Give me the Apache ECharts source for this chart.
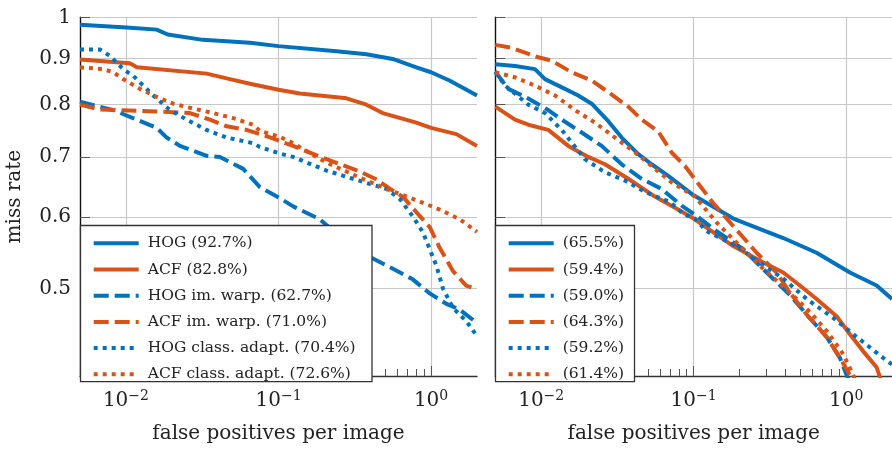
<!DOCTYPE html>
<html><head><meta charset="utf-8">
<script src="https://cdn.jsdelivr.net/npm/echarts@6/dist/echarts.min.js"></script>
<style>html,body{margin:0;padding:0;background:#fff}#c{width:892px;height:449px}</style>
</head><body><div id="c"></div>
<script>
// ---- tick values ----
const xTicks = [0.01, 0.1, 1];
const xMinorTicks = [0.006,0.007,0.008,0.009,0.02,0.03,0.04,0.05,0.06,0.07,0.08,0.09,0.2,0.3,0.4,0.5,0.6,0.7,0.8,0.9];
const yTicks = [0.5, 0.6, 0.7, 0.8, 0.9, 1];

// ---- left panel series: [false positives per image, miss rate] ----
const hogL = [[0.005,0.981],[0.0101,0.974],[0.0159,0.969],[0.0188,0.957],[0.0319,0.944],[0.065,0.937],[0.1,0.929],[0.24,0.917],[0.377,0.91],[0.561,0.899],[0.8,0.88],[1.0,0.869],[1.32,0.851],[2.0,0.819]];
const acfL = [[0.005,0.898],[0.0106,0.889],[0.0118,0.88],[0.0338,0.866],[0.048,0.854],[0.065,0.844],[0.1,0.831],[0.138,0.823],[0.279,0.813],[0.377,0.8],[0.482,0.783],[0.8,0.764],[1.0,0.754],[1.466,0.742],[2.0,0.72]];
const hogWarpL = [[0.005,0.806],[0.00826,0.789],[0.0159,0.754],[0.0185,0.7355],[0.0226,0.72],[0.0338,0.702],[0.0413,0.70],[0.0587,0.679],[0.0755,0.648],[0.102,0.63],[0.1247,0.617],[0.1866,0.597],[0.2638,0.567],[0.4067,0.541],[0.563,0.526],[0.758,0.512],[0.98,0.494],[1.26,0.481],[1.54,0.474],[2.0,0.458]];
const acfWarpL = [[0.005,0.8],[0.00676,0.79],[0.0159,0.786],[0.02626,0.783],[0.0355,0.77],[0.0457,0.757],[0.0617,0.75],[0.0835,0.738],[0.102,0.729],[0.1247,0.72],[0.2064,0.696],[0.33,0.676],[0.43,0.662],[0.54,0.645],[0.655,0.632],[0.8,0.608],[0.98,0.585],[1.139,0.555],[1.392,0.523],[1.7,0.504],[2.0,0.499]];
const hogAdaptL = [[0.005,0.921],[0.00676,0.921],[0.00786,0.906],[0.0096,0.876],[0.01117,0.861],[0.0151,0.819],[0.01943,0.789],[0.025,0.77],[0.0338,0.75],[0.0457,0.7355],[0.0682,0.725],[0.0755,0.718],[0.102,0.706],[0.1247,0.70],[0.2064,0.676],[0.308,0.662],[0.51,0.645],[0.623,0.629],[0.761,0.601],[0.886,0.577],[0.98,0.553],[1.084,0.53],[1.197,0.50],[1.392,0.476],[1.703,0.46],[2.0,0.443]];
const acfAdaptL = [[0.005,0.88],[0.00707,0.876],[0.00826,0.869],[0.0096,0.854],[0.01235,0.833],[0.0159,0.816],[0.0204,0.802],[0.0276,0.792],[0.0373,0.783],[0.0504,0.773],[0.0682,0.76],[0.0755,0.748],[0.102,0.737],[0.1247,0.725],[0.2064,0.69],[0.341,0.664],[0.51,0.645],[0.689,0.633],[1.139,0.612],[1.54,0.597],[2.0,0.578]];

// ---- right panel series ----
const hogR = [[0.005,0.887],[0.00673,0.883],[0.0091,0.876],[0.01059,0.854],[0.01432,0.833],[0.0175,0.819],[0.02144,0.802],[0.02754,0.767],[0.03372,0.7355],[0.04333,0.705],[0.053,0.687],[0.0681,0.667],[0.0994,0.635],[0.1819,0.598],[0.3869,0.569],[0.6405,0.548],[1.059,0.521],[1.585,0.504],[2.0,0.487]];
const acfR = [[0.005,0.796],[0.00673,0.77],[0.00823,0.76],[0.01113,0.75],[0.01505,0.72],[0.02036,0.70],[0.0262,0.687],[0.03725,0.662],[0.0557,0.6325],[0.0834,0.609],[0.1,0.598],[0.1819,0.5575],[0.2721,0.537],[0.3869,0.521],[0.4977,0.504],[0.6405,0.487],[0.866,0.466],[1.059,0.445],[1.295,0.426],[1.585,0.409],[1.7,0.395]];
const hogWarpR = [[0.005,0.87],[0.00608,0.833],[0.00823,0.8128],[0.01113,0.789],[0.01363,0.77],[0.01843,0.745],[0.02493,0.72],[0.03372,0.687],[0.0456,0.662],[0.0617,0.645],[0.0834,0.618],[0.102,0.604],[0.1415,0.579],[0.2114,0.553],[0.3012,0.521],[0.428,0.492],[0.5508,0.468],[0.745,0.442],[0.911,0.419],[1.008,0.401],[1.05,0.395]];
const acfWarpR = [[0.005,0.932],[0.0064,0.925],[0.00957,0.903],[0.01172,0.895],[0.01585,0.869],[0.02144,0.851],[0.02754,0.826],[0.03725,0.796],[0.0456,0.77],[0.0586,0.747],[0.0717,0.708],[0.0877,0.684],[0.0994,0.665],[0.1344,0.622],[0.1914,0.581],[0.2588,0.548],[0.35,0.521],[0.428,0.495],[0.5508,0.468],[0.745,0.442],[0.911,0.419],[1.059,0.401],[1.1,0.395]];
const hogAdaptR = [[0.005,0.87],[0.00579,0.84],[0.00823,0.80],[0.01059,0.783],[0.01363,0.75],[0.01937,0.696],[0.0262,0.673],[0.03544,0.659],[0.0479,0.64],[0.0699,0.624],[0.0855,0.605],[0.102,0.598],[0.1217,0.579],[0.1914,0.5575],[0.2721,0.534],[0.3869,0.513],[0.5508,0.487],[0.823,0.464],[1.172,0.442],[1.75,0.419],[2.0,0.412]];
const acfAdaptR = [[0.005,0.869],[0.00673,0.858],[0.0091,0.84],[0.01232,0.819],[0.01666,0.789],[0.02253,0.764],[0.03048,0.7355],[0.04121,0.708],[0.053,0.684],[0.0717,0.656],[0.102,0.6325],[0.1415,0.592],[0.2011,0.5575],[0.286,0.526],[0.428,0.495],[0.579,0.471],[0.745,0.449],[0.957,0.423],[1.113,0.401],[1.15,0.395]];

const namesL = ['HOG (92.7%)','ACF (82.8%)','HOG im. warp. (62.7%)','ACF im. warp. (71.0%)','HOG class. adapt. (70.4%)','ACF class. adapt. (72.6%)'];
const namesR = ['(65.5%)','(59.4%)','(59.0%)','(64.3%)','(59.2%)','(61.4%)'];

const BLUE = '#0072BD', ORANGE = '#D95319';
const SOLID = 'solid', DASH = [15, 6], DOT = [4, 5];
const FONT = 'DejaVu Serif';

function mk(name, data, color, dash, xi, yi) {
  return {
    type: 'line', name: name, data: data, xAxisIndex: xi, yAxisIndex: yi,
    symbol: 'none', showSymbol: false, animation: false, z: 2, clip: true,
    lineStyle: { color: color, width: 4, type: dash, cap: 'butt', join: 'round' },
    itemStyle: { color: color }
  };
}

const X_MIN = 0.005, X_MAX = 2, Y_MIN = 0.4, Y_MAX = 1;

function xFmt(v) {
  const e = Math.round(Math.log10(v));
  return '{b|10}{s|' + (e < 0 ? '\u2212' + (-e) : String(e)) + '}';
}
const xRich = {
  b: { fontFamily: FONT, fontSize: 20, color: '#222', lineHeight: 24 },
  s: { fontFamily: FONT, fontSize: 14, color: '#222', lineHeight: 12, verticalAlign: 'top' }
};

function mainX(gi) {
  return {
    type: 'log', logBase: 10, gridIndex: gi, min: X_MIN, max: X_MAX, position: 'bottom',
    name: 'false positives per image', nameLocation: 'middle', nameGap: 48,
    nameTextStyle: { fontFamily: FONT, fontSize: 20, color: '#222' },
    axisLine: { show: true, onZero: false, lineStyle: { color: '#333', width: 1.3 } },
    axisTick: { show: true, inside: true, length: 10, customValues: xTicks, lineStyle: { color: '#555', width: 1 } },
    axisLabel: { show: true, margin: 13, customValues: xTicks, formatter: xFmt, rich: xRich },
    splitLine: { show: true, lineStyle: { color: '#c8c8c8', width: 1.2 } },
    minorTick: { show: false }
  };
}
function minorX(gi) {
  return {
    type: 'log', logBase: 10, gridIndex: gi, min: X_MIN, max: X_MAX, position: 'bottom',
    axisLine: { show: false },
    axisTick: { show: true, inside: true, length: 7, customValues: xMinorTicks, lineStyle: { color: '#555', width: 1 } },
    axisLabel: { show: false },
    splitLine: { show: false }
  };
}
function mainY(gi, labels) {
  return {
    type: 'log', logBase: 10, gridIndex: gi, min: Y_MIN, max: Y_MAX,
    name: labels ? 'miss rate' : '', nameLocation: 'middle', nameGap: 55,
    nameTextStyle: { fontFamily: FONT, fontSize: 20, color: '#222' },
    axisLine: { show: true, onZero: false, lineStyle: { color: '#111', width: 1.4 } },
    axisTick: { show: true, inside: true, length: 10, customValues: yTicks, lineStyle: { color: '#555', width: 1 } },
    axisLabel: { show: labels, margin: 9, customValues: yTicks, fontFamily: FONT, fontSize: 20, color: '#222',
      formatter: v => (Math.abs(v - 1) < 1e-9 ? '1' : v.toFixed(1)) },
    splitLine: { show: true, lineStyle: { color: '#c8c8c8', width: 1.2 } }
  };
}

function legend(left, names) {
  return {
    orient: 'vertical', left: left, top: 235.3, itemWidth: 45, itemHeight: 14, itemGap: 10.2,
    padding: 0, z: 20, selectedMode: false,
    lineStyle: { width: 4 },
    itemStyle: { color: 'rgba(0,0,0,0)', borderColor: 'rgba(0,0,0,0)', borderWidth: 0, opacity: 0 },
    textStyle: { fontFamily: FONT, fontSize: 15.5, color: '#222', padding: [0, 0, 0, 4] },
    data: names
  };
}

const option = {
  backgroundColor: '#fff',
  animation: false,
  grid: [
    { left: 80, top: 17.3, width: 397, height: 364.4 },
    { left: 495.3, top: 17.3, width: 397, height: 364.4 }
  ],
  xAxis: [mainX(0), minorX(0), mainX(1), minorX(1)],
  yAxis: [mainY(0, true), mainY(1, false)],
  legend: [legend(91.7, namesL), legend(506.7, namesR)],
  graphic: [
    { type: 'rect', z: 15, shape: { x: 80.5, y: 225.5, width: 291.5, height: 156.2 }, style: { fill: '#fff', stroke: '#333', lineWidth: 1.3 } },
    { type: 'rect', z: 15, shape: { x: 495.5, y: 225.5, width: 139, height: 156.2 }, style: { fill: '#fff', stroke: '#333', lineWidth: 1.3 } }
  ],
  series: [
    mk(namesL[0], hogL, BLUE, SOLID, 0, 0),
    mk(namesL[1], acfL, ORANGE, SOLID, 0, 0),
    mk(namesL[2], hogWarpL, BLUE, DASH, 0, 0),
    mk(namesL[3], acfWarpL, ORANGE, DASH, 0, 0),
    mk(namesL[4], hogAdaptL, BLUE, DOT, 0, 0),
    mk(namesL[5], acfAdaptL, ORANGE, DOT, 0, 0),
    mk(namesR[0], hogR, BLUE, SOLID, 2, 1),
    mk(namesR[1], acfR, ORANGE, SOLID, 2, 1),
    mk(namesR[2], hogWarpR, BLUE, DASH, 2, 1),
    mk(namesR[3], acfWarpR, ORANGE, DASH, 2, 1),
    mk(namesR[4], hogAdaptR, BLUE, DOT, 2, 1),
    mk(namesR[5], acfAdaptR, ORANGE, DOT, 2, 1)
  ]
};

const chart = echarts.init(document.getElementById('c'), null, { renderer: 'canvas' });
chart.setOption(option);
</script>
</body></html>
